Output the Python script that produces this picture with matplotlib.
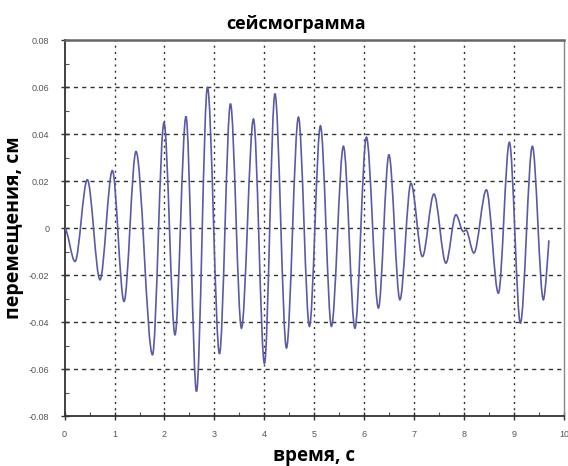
import matplotlib
matplotlib.use("Agg")
import matplotlib.pyplot as plt
from matplotlib.path import Path
from matplotlib.patches import PathPatch
from matplotlib.ticker import MultipleLocator, FuncFormatter

# экстремумы сейсмограммы (время, с / смещение, см)
t_ext = [0.0, 0.21, 0.456, 0.71, 0.957, 1.19, 1.43, 1.76, 1.99, 2.21, 2.43, 2.64,
         2.86, 3.10, 3.32, 3.54, 3.78, 4.00, 4.21, 4.44, 4.68, 4.90, 5.12, 5.34,
         5.58, 5.81, 6.04, 6.28, 6.49, 6.71, 6.93, 7.16, 7.39, 7.63, 7.83, 7.98,
         8.03, 8.19, 8.44, 8.68, 8.90, 9.12, 9.36, 9.58, 9.69]
u_ext = [0.0, -0.0142, 0.0206, -0.022, 0.0245, -0.0312, 0.0326, -0.0539, 0.0449,
         -0.0454, 0.0475, -0.0695, 0.0600, -0.0535, 0.0529, -0.0426, 0.0464,
         -0.0576, 0.0572, -0.0510, 0.0472, -0.0418, 0.0435, -0.0418, 0.0348,
         -0.0426, 0.0387, -0.0340, 0.0312, -0.0305, 0.0191, -0.0121, 0.0145,
         -0.0149, 0.0057, -0.0015, -0.0008, -0.0106, 0.0163, -0.0277, 0.0365,
         -0.0404, 0.0348, -0.0305, -0.0052]

x_ticks = list(range(0, 11))
y_ticks = [-0.08, -0.06, -0.04, -0.02, 0, 0.02, 0.04, 0.06, 0.08]

fig = plt.figure(figsize=(5.68, 4.66), dpi=100)
ax = fig.add_axes([0.1136, 0.107, 0.880, 0.807])

# кривая: кубические сегменты Безье между экстремумами (горизонтальные касательные)
verts = [(t_ext[0], u_ext[0])]
codes = [Path.MOVETO]
for i in range(1, len(t_ext)):
    t0, u0 = t_ext[i - 1], u_ext[i - 1]
    t1, u1 = t_ext[i], u_ext[i]
    dt = t1 - t0
    c2 = (t1 - dt / 3, u1) if i < len(t_ext) - 1 else (t1, u1)
    verts += [(t0 + dt / 3, u0), c2, (t1, u1)]
    codes += [Path.CURVE4] * 3
ax.add_patch(PathPatch(Path(verts, codes), fill=False, edgecolor="#5a5aa8",
                       linewidth=1.2, zorder=3))

ax.set_xlim(0, 10)
ax.set_ylim(-0.08, 0.08)
ax.set_xticks(x_ticks)
ax.set_yticks(y_ticks)
ax.xaxis.set_minor_locator(MultipleLocator(0.5))
ax.yaxis.set_minor_locator(MultipleLocator(0.01))
ax.yaxis.set_major_formatter(FuncFormatter(lambda v, p: "0" if abs(v) < 1e-9 else "%.2f" % v))

# сетка
for xv in x_ticks[1:-1]:
    ax.axvline(xv, color="#333333", linewidth=1.0, linestyle=(0, (1.5, 3)), zorder=1)
for yv in y_ticks[1:-1]:
    ax.axhline(yv, color="#333333", linewidth=1.0, linestyle=(0, (3, 3)), zorder=1)

ax.tick_params(which="major", direction="inout", length=6, width=1.0, color="#333333",
               labelsize=6.5, labelcolor="#555555")
ax.tick_params(axis="y", which="major", pad=8)
ax.tick_params(axis="x", which="major", pad=7)
ax.tick_params(which="minor", direction="in", length=3, width=0.8, color="#555555")
for lbl in ax.get_xticklabels() + ax.get_yticklabels():
    lbl.set_family("Liberation Sans")

for side in ["left", "bottom"]:
    ax.spines[side].set_linewidth(1.3)
    ax.spines[side].set_color("#333333")
ax.spines["top"].set_linewidth(1.8)
ax.spines["top"].set_color("#666666")
ax.spines["right"].set_linewidth(1.0)
ax.spines["right"].set_color("#888888")

fig.text(296 / 568, 1 - 29 / 466, "сейсмограмма", ha="center", va="baseline",
         fontsize=13, fontweight="bold", family="Open Sans")
fig.text(314 / 568, 1 - 461 / 466, "время, с", ha="center", va="baseline",
         fontsize=13.5, fontweight="bold", family="Open Sans")
fig.text(14 / 568, 1 - 228 / 466, "перемещения, см", ha="center", va="center",
         rotation=90, fontsize=14, fontweight="bold", family="Open Sans")

fig.savefig("out.png", dpi=100)
